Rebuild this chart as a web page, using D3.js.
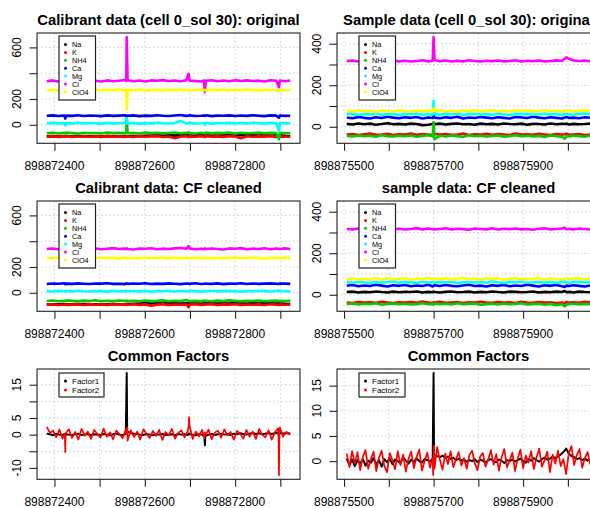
<!DOCTYPE html>
<html><head><meta charset="utf-8">
<script src="https://cdn.jsdelivr.net/npm/d3@7"></script>
<style>
body{margin:0;background:#fff}
svg{display:block}
text{font-family:"Liberation Sans",Arial,Helvetica,sans-serif;fill:#000}
</style></head>
<body><svg id="c" width="590" height="508"></svg>
<script>
// ---------- DATA ----------
const speciesNames = ["Na","K","NH4","Ca","Mg","Cl","ClO4"];
const factorNames = ["Factor1","Factor2"];

const calTime = [898872383,898872396,898872409,898872422,898872424,898872426,898872439,898872452,898872465,898872478,898872491,898872504,898872517,898872530,898872543,898872556,898872559,898872560,898872562,898872575,898872588,898872601,898872614,898872627,898872640,898872653,898872666,898872679,898872692,898872697,898872699,898872712,898872725,898872731,898872733,898872735,898872748,898872761,898872774,898872787,898872800,898872813,898872826,898872839,898872852,898872865,898872878,898872891,898872897,898872899,898872910,898872922];

// Calibrant original
const calNa = [-90,-88,-91,-89,-90,-87,-91,-89,-88,-90,-89,-91,-88,-90,-89,-91,-88,-90,-89,-87,-88,-86,-84,-82,-83,-81,-84,-80,-82,-83,-81,-84,-80,-82,-90,-83,-81,-84,-80,-82,-83,-81,-79,-82,-84,-80,-83,-81,-95,-82,-86,-88];
const calK = [-92,-89,-94,-90,-93,-88,-95,-91,-89,-93,-90,-94,-88,-92,-90,-95,-89,-92,-91,-94,-89,-93,-90,-88,-95,-91,-105,-92,-89,-94,-90,-93,-88,-91,-95,-89,-92,-90,-94,-88,-91,-104,-89,-93,-90,-92,-88,-94,-95,-90,-93,-91];
const calNH4 = [-66,-62,-68,-63,-67,-61,-65,-69,-62,-66,-64,-68,-61,-65,-63,-67,-62,55,-66,-63,-68,-61,-65,-62,-67,-64,-60,-66,-63,-58,-65,-68,-62,-66,-64,-61,-67,-63,-65,-60,-68,-62,-66,-64,-61,-67,-63,-65,-112,-62,-66,-64];
const calCa = [70,73,68,72,48,71,69,74,68,72,70,67,73,69,71,74,68,72,70,73,67,71,69,74,70,68,72,76,69,71,73,68,70,72,69,74,67,71,70,73,68,72,69,74,70,67,73,71,55,72,69,70];
const calMg = [12,15,10,14,-5,13,11,16,10,14,12,9,15,11,13,16,10,50,12,15,9,13,11,16,12,10,14,30,11,13,15,10,12,14,0,16,9,13,12,15,10,14,11,16,12,9,15,13,-50,14,11,12];
const calCl = [338,344,336,342,340,345,337,343,339,346,341,336,344,338,342,347,340,680,345,338,343,336,344,341,346,339,343,337,345,395,342,340,336,344,255,341,345,338,343,337,346,340,344,339,342,336,345,341,290,343,338,344];
const calClO4 = [268,272,266,271,269,273,267,270,274,268,271,266,272,269,273,267,270,120,271,268,273,266,270,272,267,271,269,274,268,272,266,270,273,268,271,267,272,269,274,266,271,268,273,270,267,272,269,271,268,273,266,270];

// Calibrant CF cleaned
const calCleanNa = [-91,-89,-90,-88,-91,-90,-89,-91,-88,-90,-89,-91,-90,-88,-89,-91,-90,-89,-88,-86,-84,-82,-83,-81,-84,-80,-82,-83,-81,-84,-80,-82,-83,-81,-84,-80,-82,-83,-81,-84,-80,-82,-83,-81,-84,-82,-80,-83,-78,-82,-85,-88];
const calCleanK = [-93,-90,-95,-91,-89,-94,-92,-90,-95,-88,-93,-91,-94,-89,-92,-90,-95,-91,-93,-89,-94,-90,-100,-92,-89,-94,-91,-93,-90,-112,-92,-89,-94,-90,-93,-91,-88,-95,-90,-92,-89,-94,-91,-93,-90,-95,-89,-92,-94,-90,-93,-91];
const calCleanNH4 = [-64,-60,-66,-62,-65,-59,-63,-67,-61,-64,-58,-66,-62,-65,-60,-63,-67,-61,-64,-62,-66,-60,-65,-63,-59,-66,-62,-64,-56,-61,-65,-63,-67,-60,-64,-62,-66,-61,-65,-59,-63,-67,-62,-64,-60,-66,-63,-61,-65,-62,-64,-63];
const calCleanCa = [68,72,70,74,67,71,69,73,70,68,72,71,74,69,70,67,73,71,69,72,70,74,68,71,69,73,70,67,72,71,69,74,68,70,72,71,69,73,67,71,70,74,68,72,69,71,73,70,68,72,71,69];
const calCleanMg = [13,10,15,12,9,14,11,16,12,10,14,13,9,15,11,13,16,10,12,14,11,15,9,13,12,16,10,14,12,11,15,13,9,14,12,10,16,11,13,15,12,9,14,11,16,13,10,15,18,12,14,11];
const calCleanCl = [339,343,337,341,344,338,342,336,345,340,343,337,341,346,339,342,338,344,340,336,343,341,345,338,342,339,344,347,341,362,343,338,342,337,345,340,343,339,336,344,341,346,338,342,340,345,337,343,341,339,344,340];
const calCleanClO4 = [272,268,274,270,267,273,269,271,266,272,270,274,268,271,267,273,270,269,272,266,271,274,268,270,273,267,271,269,272,270,268,274,266,271,273,269,270,272,267,271,274,268,270,273,269,266,272,271,268,270,273,269];

const smpTime = [898875506,898875519,898875532,898875545,898875558,898875571,898875584,898875597,898875610,898875623,898875636,898875649,898875662,898875675,898875688,898875698,898875700,898875702,898875714,898875727,898875740,898875753,898875766,898875779,898875792,898875805,898875818,898875831,898875844,898875857,898875870,898875883,898875896,898875909,898875922,898875935,898875948,898875961,898875974,898875987,898875993,898875997,898876003,898876012,898876025,898876038,898876050];

// Sample original
const smpNa = [14,11,16,12,15,10,13,17,12,14,11,15,13,8,10,13,20,12,15,11,14,16,12,13,10,15,12,14,11,16,13,12,15,10,14,13,11,16,12,14,13,15,11,14,12,13,15];
const smpK = [-38,-35,-40,-36,-33,-39,-37,-34,-40,-36,-38,-33,-39,-35,-37,-40,-36,-34,-38,-35,-39,-37,-33,-40,-36,-38,-34,-39,-35,-37,-40,-33,-38,-36,-39,-34,-37,-40,-35,-38,-36,-33,-39,-37,-35,-40,-38];
const smpNH4 = [-44,-47,-42,-46,-43,-48,-41,-45,-47,-43,-46,-42,-48,-44,-41,-46,20,-60,-43,-47,-42,-45,-48,-41,-46,-43,-47,-44,-42,-48,-45,-41,-46,-43,-47,-44,-49,-42,-46,-48,-58,-44,-47,-43,-45,-48,-42];
const smpCa = [45,41,47,43,40,46,42,48,44,41,46,43,47,40,45,42,55,44,41,46,43,48,40,45,42,47,44,41,46,43,40,47,45,42,48,44,41,46,43,40,45,47,42,44,41,46,43];
const smpMg = [60,64,57,62,59,65,58,61,63,57,62,60,64,58,61,59,125,63,58,62,60,64,57,61,63,59,62,58,64,60,57,62,61,63,58,60,64,59,62,57,61,63,60,58,62,64,59];
const smpCl = [316,319,314,318,315,320,313,317,319,315,318,314,317,320,315,318,432,322,316,319,314,318,315,320,317,314,318,316,319,315,317,320,314,318,316,319,315,317,320,318,328,334,326,320,317,319,315];
const smpClO4 = [78,72,80,74,77,71,79,75,73,80,76,72,78,74,79,73,90,77,80,74,78,72,79,75,81,73,77,80,74,78,72,79,76,80,73,77,81,74,78,72,80,75,79,73,77,80,74];

// Sample CF cleaned
const smpCleanNa = [13,15,11,14,12,16,13,11,15,12,14,13,16,11,14,12,15,13,11,14,16,12,13,15,11,14,12,16,13,11,15,14,12,13,16,11,14,12,15,13,18,12,14,11,15,13,12];
const smpCleanK = [-37,-40,-35,-38,-36,-39,-34,-37,-40,-36,-38,-35,-39,-33,-37,-40,-36,-38,-34,-39,-37,-35,-40,-36,-38,-34,-37,-39,-35,-38,-36,-40,-34,-37,-39,-35,-38,-36,-40,-37,-42,-35,-38,-36,-39,-34,-37];
const smpCleanNH4 = [-45,-42,-47,-43,-46,-41,-48,-44,-42,-46,-43,-47,-45,-41,-46,-44,-48,-42,-45,-43,-47,-41,-46,-44,-42,-48,-45,-43,-47,-42,-46,-44,-41,-47,-45,-43,-48,-44,-50,-46,-56,-48,-45,-43,-47,-44,-46];
const smpCleanCa = [43,47,41,45,42,48,44,40,46,43,47,41,45,42,48,40,44,46,42,47,43,41,45,48,42,44,40,46,43,47,41,45,42,48,44,40,46,43,47,41,38,44,42,46,43,40,45];
const smpCleanMg = [62,58,64,60,57,63,59,61,65,58,62,60,57,64,59,61,63,58,62,60,64,57,61,63,59,62,58,65,60,57,62,61,64,58,60,63,59,62,57,61,64,60,58,62,63,59,61];
const smpCleanCl = [317,314,319,315,318,313,316,320,315,318,314,317,321,315,319,316,318,314,317,320,315,318,316,313,319,317,315,320,314,318,316,319,315,317,313,318,320,315,317,319,323,316,318,315,319,317,314];
const smpCleanClO4 = [76,80,73,78,74,81,72,79,75,77,80,73,78,74,81,76,72,79,75,80,73,77,81,74,78,72,80,76,79,73,77,81,74,78,75,80,72,79,76,73,78,81,74,77,80,75,79];

// Common factors, calibrant
const calFacTime = [898872383,898872390,898872397,898872404,898872411,898872418,898872423,898872424,898872425,898872432,898872439,898872446,898872453,898872460,898872467,898872474,898872481,898872488,898872495,898872502,898872509,898872516,898872523,898872530,898872537,898872544,898872551,898872558,898872559,898872560,898872561,898872562,898872569,898872576,898872583,898872590,898872597,898872604,898872611,898872618,898872625,898872632,898872639,898872646,898872653,898872660,898872667,898872674,898872681,898872688,898872695,898872697,898872698,898872699,898872706,898872713,898872720,898872727,898872732,898872733,898872734,898872741,898872748,898872755,898872762,898872769,898872776,898872783,898872790,898872797,898872804,898872811,898872818,898872825,898872832,898872839,898872846,898872853,898872860,898872867,898872874,898872881,898872888,898872895,898872896,898872897,898872898,898872899,898872906,898872913,898872922];
const calFactor1 = [0.3,0.1,-0.2,0.2,0.0,-0.1,0.2,-0.3,0.1,0.0, -0.2,0.1,0.3,-0.1,0.0,0.2,-0.2,0.1,0.0,-0.1, 0.2,0.0,-0.2,0.1,0.3,0.0,-0.1,0.2, 9.0,18.5,1.2,0.8, 0.5,0.3,0.2,0.0,-0.1,0.2,0.0,-0.2, 0.1,0.0,0.2,-0.1,0.0,0.1,-0.2,0.2,0.0,0.1, -0.1,0.2,0.4,0.1,0.0,-0.2,0.1,0.0, -0.5,-3.2,-0.4, 0.0,0.2,-0.1,0.1,0.3,0.0,0.2,-0.1,0.3, 0.1,0.4,0.2,0.0,0.3,0.5,0.2,0.4,0.1,0.3, 0.5,0.2,0.4,0.6,0.3,-0.5,0.4,0.6,0.3,0.5,0.2];
const calFactor2 = [2.3,0.5,1.2,-0.8,1.5,-1.2,0.3,-5.3,0.4,1.6, -1.0,0.8,-1.5,1.7,-0.3,0.9,-1.3,1.4,0.2,-0.9, 1.8,-0.6,0.7,-1.4,1.2,0.1,-1.1,1.5, 0.6,1.0,2.2,-1.8, 1.3,-0.7,0.9,-1.5,1.6,0.2,-1.0,1.1, -0.4,1.4,-1.6,0.8,-0.2,1.7,-1.2,0.5,1.3,-0.8, 1.0,2.6,5.3,2.8,-1.3,0.9,-0.5,1.4, -1.1,0.7,-0.3, 1.5,-1.4,0.6,1.2,-0.9,1.6,-0.2,0.8,-1.5, 1.1,0.3,-1.2,1.4,-0.6,0.9,-1.3,1.7,0.0,-0.8, 1.3,-1.5,0.7,1.9,-0.4,-12.2,1.2,2.1,-0.6,0.8,0.3];

// Common factors, sample
const smpFacTime = [898875506,898875512,898875518,898875524,898875530,898875536,898875542,898875548,898875554,898875560,898875566,898875572,898875578,898875584,898875590,898875596,898875602,898875608,898875614,898875620,898875626,898875632,898875638,898875644,898875650,898875656,898875662,898875668,898875674,898875680,898875686,898875692,898875698,898875699,898875700,898875701,898875702,898875708,898875714,898875720,898875726,898875732,898875738,898875744,898875750,898875756,898875762,898875768,898875774,898875780,898875786,898875792,898875798,898875804,898875810,898875816,898875822,898875828,898875834,898875840,898875846,898875852,898875858,898875864,898875870,898875876,898875882,898875888,898875894,898875900,898875906,898875912,898875918,898875924,898875930,898875936,898875942,898875948,898875954,898875960,898875966,898875972,898875978,898875984,898875990,898875996,898876002,898876008,898876014,898876020,898876026,898876032,898876038,898876044,898876050];
const smpFactor1 = [0.5,-0.8,0.3,-1.0,0.2,-0.5,0.4,-0.9,0.1,-0.3, 0.6,-0.7,0.2,-1.1,0.4,-0.2,0.5,-0.6,0.3,0.0, -0.4,0.7,0.1,-0.5,0.3,-0.2,0.6,0.0,-0.3,0.4, 0.2,-0.1,0.5, 9.0,17.5,1.5,1.2, 1.0,0.8,1.1,0.6,0.9,0.4,0.7,0.2,0.5,0.1, 0.3,-0.1,0.2,0.0,0.4,-0.2,0.3,0.1,-0.3,0.2, 0.4,0.0,-0.2,0.3,0.1,-0.4,0.2,0.0,0.3,-0.1, 0.2,0.5,0.0,-0.3,0.4,0.1,0.6,0.2,-0.1,0.4, 0.7,0.3,0.5,0.9,0.6,1.0,1.3,1.8,2.5,1.5, 1.0,0.8,0.4,0.6,0.2,0.5,0.1,0.3];
const smpFactor2 = [1.5,-1.2,2.0,-0.5,1.8,-1.8,0.9,2.2,-1.5,0.4, 1.9,-2.0,0.7,2.1,-1.0,-2.2,1.6,0.2,-1.6,2.0, -0.8,1.3,-2.1,0.5,1.9,-1.4,0.8,2.3,-1.9,0.0, 1.7,-1.3,0.6, -2.8,1.0,3.2,-1.5, 2.8,0.3,-1.7,1.5,-0.6,2.0,-1.2,0.4,1.8,-0.9, 0.6,-1.5,1.2,2.1,-0.4,-1.8,0.9,1.6,-1.1,0.3, 2.2,-0.7,1.4,-1.9,0.8,2.4,-1.2,0.1,1.7,-2.0, 0.5,2.3,-1.4,1.1,-0.3,2.0,-1.6,0.7,2.5,-1.1, 0.2,1.9,-2.2,1.3,-0.5,2.1,-1.0,0.4,-2.6,1.6, 3.0,-0.8,1.2,2.4,-1.3,0.6,1.8,-0.7];

// Axis ticks and labels
const calXTicks = [898872400,898872500,898872600,898872700,898872800,898872900];
const calXLabels = [898872400,898872600,898872800];
const smpXTicks = [898875500,898875600,898875700,898875800,898875900,898876000];
const smpXLabels = [898875500,898875700,898875900];
const calYTicks = [0,200,400,600];
const calYLabels = [0,200,600];
const smpYTicks = [0,100,200,300,400];
const smpYLabels = [0,200,400];
const calFacYTicks = [-10,-5,0,5,10,15];
const calFacYLabels = [-10,0,5,15];
const smpFacYTicks = [0,5,10,15];
const smpFacYLabels = [0,5,10,15];

const titles = ["Calibrant data (cell 0_sol 30): original","Sample data (cell 0_sol 30): original",
  "Calibrant data: CF cleaned","sample data: CF cleaned","Common Factors","Common Factors"];

const speciesColors = ["#000000","#FF0000","#00CD00","#0000FF","#00FFFF","#FF00FF","#FFFF00"];
const factorColors = ["#000000","#FF0000"];

// ---------- DRAWING ----------
const svg = d3.select("#c");
const colX = [[37,300],[337,600]];
const rowTop = [33,201,369];
const boxH = 110.3;
let clipId = 0;

function pad(ext){const r=ext[1]-ext[0];return [ext[0]-0.04*r, ext[1]+0.04*r];}

function panel(o){
  const [x0,x1] = colX[o.col];
  const y0 = rowTop[o.row], y1 = y0+boxH;
  const x = d3.scaleLinear().domain(pad(d3.extent(o.time))).range([x0,x1]);
  const y = d3.scaleLinear().domain(pad(d3.extent(o.ylimSeries.flat()))).range([y1,y0]);
  const g = svg.append("g");

  // grid
  g.selectAll(".gx").data(o.xTicks).join("line")
    .attr("x1",d=>x(d)).attr("x2",d=>x(d)).attr("y1",y0).attr("y2",y1)
    .attr("stroke","#c8c8c8").attr("stroke-width",1).attr("stroke-dasharray","1.3,2.7");
  g.selectAll(".gy").data(o.yTicks).join("line")
    .attr("x1",x0).attr("x2",x1).attr("y1",d=>y(d)).attr("y2",d=>y(d))
    .attr("stroke","#c8c8c8").attr("stroke-width",1).attr("stroke-dasharray","1.3,2.7");

  // data
  const id = "clip"+(clipId++);
  svg.append("clipPath").attr("id",id).append("rect")
    .attr("x",x0).attr("y",y0).attr("width",x1-x0).attr("height",y1-y0);
  const dg = g.append("g").attr("clip-path",`url(#${id})`);
  o.series.forEach((s,i)=>{
    const line = d3.line().x((d,j)=>x(o.time[j])).y(d=>y(d));
    dg.append("path").attr("d",line(s)).attr("fill","none")
      .attr("stroke",o.colors[i]).attr("stroke-width",o.lw[i])
      .attr("stroke-linejoin","round");
  });

  // box
  g.append("rect").attr("x",x0).attr("y",y0).attr("width",x1-x0).attr("height",y1-y0)
    .attr("fill","none").attr("stroke","#222").attr("stroke-width",1.1);

  // x axis
  const xa = d3.axisBottom(x).tickValues(o.xTicks).tickSize(7.5).tickFormat(()=>"");
  const xg = g.append("g").attr("transform",`translate(0,${y1})`).call(xa);
  xg.select(".domain").remove();
  xg.selectAll("line").attr("stroke","#222").attr("stroke-width",1.1);
  g.selectAll(".xl").data(o.xLabels).join("text")
    .attr("x",d=>x(d)).attr("y",y1+26.5).attr("text-anchor","middle")
    .attr("font-size","12px").attr("fill","#222").text(d=>d3.format("d")(d));

  // y axis
  const ya = d3.axisLeft(y).tickValues(o.yTicks).tickSize(7.5).tickFormat(()=>"");
  const yg = g.append("g").attr("transform",`translate(${x0},0)`).call(ya);
  yg.select(".domain").remove();
  yg.selectAll("line").attr("stroke","#222").attr("stroke-width",1.1);
  g.selectAll(".yl").data(o.yLabels).join("text")
    .attr("transform",d=>`translate(${x0-16},${y(d)}) rotate(-90)`)
    .attr("text-anchor","middle").attr("font-size","12px").attr("fill","#222").text(d=>d);

  // title
  g.append("text").attr("x",(x0+x1)/2).attr("y",y0-8).attr("text-anchor","middle")
    .attr("font-size","14.8px").attr("font-weight","bold").attr("fill","#111").text(o.title);

  // legend
  const L = o.legend;
  const lx = x0+22, ly = y0+L.dy;
  const lg = g.append("g");
  lg.append("rect").attr("x",lx).attr("y",ly).attr("width",L.w).attr("height",L.h)
    .attr("fill","#fff").attr("stroke","#222").attr("stroke-width",1.2);
  o.names.forEach((n,i)=>{
    const cy = ly+L.first+i*L.step;
    lg.append("circle").attr("cx",lx+6.5).attr("cy",cy).attr("r",1.5).attr("fill",o.colors[i]);
    lg.append("text").attr("x",lx+13).attr("y",cy+L.fs*0.36).attr("font-size",L.fs+"px")
      .attr("fill","#333").text(n);
  });
}

const spLegend = {dy:3,w:36.5,h:64,first:8.5,step:7.9,fs:7.3};
const spLw = [2.6,2.6,2.6,2.6,2.6,2.6,2.6];
const calOrig = [calNa,calK,calNH4,calCa,calMg,calCl,calClO4];
const smpOrig = [smpNa,smpK,smpNH4,smpCa,smpMg,smpCl,smpClO4];

panel({col:0,row:0,title:titles[0],time:calTime,series:calOrig,ylimSeries:calOrig,
  xTicks:calXTicks,xLabels:calXLabels,yTicks:calYTicks,yLabels:calYLabels,
  names:speciesNames,colors:speciesColors,lw:spLw,legend:spLegend});
panel({col:1,row:0,title:titles[1],time:smpTime,series:smpOrig,ylimSeries:smpOrig,
  xTicks:smpXTicks,xLabels:smpXLabels,yTicks:smpYTicks,yLabels:smpYLabels,
  names:speciesNames,colors:speciesColors,lw:spLw,legend:spLegend});
panel({col:0,row:1,title:titles[2],time:calTime,
  series:[calCleanNa,calCleanK,calCleanNH4,calCleanCa,calCleanMg,calCleanCl,calCleanClO4],ylimSeries:calOrig,
  xTicks:calXTicks,xLabels:calXLabels,yTicks:calYTicks,yLabels:calYLabels,
  names:speciesNames,colors:speciesColors,lw:spLw,legend:spLegend});
panel({col:1,row:1,title:titles[3],time:smpTime,
  series:[smpCleanNa,smpCleanK,smpCleanNH4,smpCleanCa,smpCleanMg,smpCleanCl,smpCleanClO4],ylimSeries:smpOrig,
  xTicks:smpXTicks,xLabels:smpXLabels,yTicks:smpYTicks,yLabels:smpYLabels,
  names:speciesNames,colors:speciesColors,lw:spLw,legend:spLegend});
panel({col:0,row:2,title:titles[4],time:calFacTime,series:[calFactor1,calFactor2],ylimSeries:[calFactor1,calFactor2],
  xTicks:calXTicks,xLabels:calXLabels,yTicks:calFacYTicks,yLabels:calFacYLabels,
  names:factorNames,colors:factorColors,lw:[2,1.7],legend:{dy:4,w:45,h:24,first:8,step:9,fs:8}});
panel({col:1,row:2,title:titles[5],time:smpFacTime,series:[smpFactor1,smpFactor2],ylimSeries:[smpFactor1,smpFactor2],
  xTicks:smpXTicks,xLabels:smpXLabels,yTicks:smpFacYTicks,yLabels:smpFacYLabels,
  names:factorNames,colors:factorColors,lw:[2,1.7],legend:{dy:4,w:46,h:24,first:8,step:9,fs:8}});
</script>
</body></html>
